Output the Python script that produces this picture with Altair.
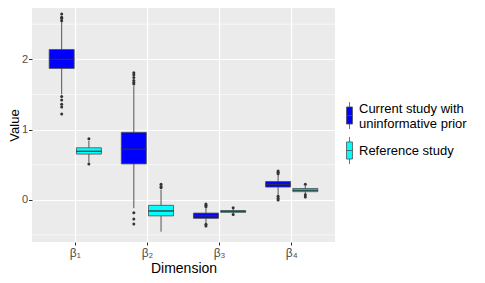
import altair as alt
import pandas as pd

dims = ["β₁", "β₂", "β₃", "β₄"]
groups = ["Current study with\n\u00a0uninformative prior", "Reference study"]
colors = ["#0000FF", "#00FFFF"]

# box statistics per (group, dimension): lower whisker, Q1, median, Q3, upper whisker
cur_lo = [1.50, -0.12, -0.33, 0.06]
cur_q1 = [1.87, 0.51, -0.265, 0.18]
cur_med = [2.00, 0.72, -0.23, 0.22]
cur_q3 = [2.14, 0.96, -0.19, 0.26]
cur_hi = [2.53, 1.62, -0.12, 0.36]

ref_lo = [0.53, -0.455, -0.20, 0.06]
ref_q1 = [0.65, -0.23, -0.18, 0.115]
ref_med = [0.69, -0.16, -0.165, 0.135]
ref_q3 = [0.74, -0.08, -0.155, 0.16]
ref_hi = [0.84, 0.14, -0.125, 0.20]

cur_out = [
    [1.47, 1.42, 1.36, 1.32, 1.22, 2.55, 2.58, 2.60, 2.645],
    [-0.185, -0.275, -0.345, 1.65, 1.67, 1.70, 1.74, 1.78, 1.81],
    [-0.06, -0.08, -0.10, -0.35, -0.375],
    [0.37, 0.39, 0.41, 0.05, 0.02, -0.005],
]
ref_out = [
    [0.87, 0.51],
    [0.17, 0.19, 0.22],
    [-0.115, -0.21],
    [0.22, 0.07, 0.04],
]

minor_y = [-0.5, 0.5, 1.5, 2.5]

rows = []
for g, (lo, q1, md, q3, hi) in zip(groups, [(cur_lo, cur_q1, cur_med, cur_q3, cur_hi),
                                            (ref_lo, ref_q1, ref_med, ref_q3, ref_hi)]):
    for i, d in enumerate(dims):
        rows.append(dict(dim=d, grp=g, lo=lo[i], q1=q1[i], med=md[i], q3=q3[i], hi=hi[i]))
stats = pd.DataFrame(rows)

orows = []
for g, outs in zip(groups, [cur_out, ref_out]):
    for i, d in enumerate(dims):
        for v in outs[i]:
            orows.append(dict(dim=d, grp=g, v=v))
outl = pd.DataFrame(orows)
minor = pd.DataFrame({"m": minor_y})

FONT = "Liberation Sans"
ydom = [-0.602, 2.731]

xenc = alt.X("dim:N", scale=alt.Scale(domain=dims, paddingInner=0, paddingOuter=0.1),
             axis=alt.Axis(title="Dimension", labelAngle=0, labelFontSize=12, labelColor="#4D4D4D",
                           labelFont=FONT, tickColor="#333333", tickSize=3, domain=False,
                           grid=True, gridColor="white", gridWidth=1.2, bandPosition=0.5,
                           labelPadding=2, titleFontSize=14, titleFont=FONT, titleFontWeight="normal",
                           titleColor="black", titlePadding=3))
xoff = alt.XOffset("grp:N", scale=alt.Scale(domain=groups, paddingInner=0.081, paddingOuter=0.366))


def yenc(field, title="Value"):
    return alt.Y(field, type="quantitative", scale=alt.Scale(domain=ydom, nice=False, zero=False),
                 axis=alt.Axis(title=title, values=[0, 1, 2], labelFontSize=11, labelColor="#4D4D4D",
                               labelFont=FONT, tickColor="#333333", tickSize=3.5, labelPadding=1,
                               domain=False, grid=True, gridColor="white", gridWidth=1.2,
                               titleFontSize=13, titleFont=FONT, titleFontWeight="normal",
                               titleColor="black", titlePadding=0))


minor_layer = alt.Chart(minor).mark_rule(color="white", strokeWidth=0.6).encode(y=yenc("m"))

whisk = alt.Chart(stats).mark_rule(color="#555555", strokeWidth=1).encode(
    x=xenc, xOffset=xoff, y=yenc("lo"), y2="hi")

legend_path = "M0.29,-0.61H0.71V0.61H0.29Z M0.5,-0.96V-0.61 M0.5,0.61V0.96 M0.29,0H0.71"
boxes = alt.Chart(stats).mark_bar(stroke="#4D4D4D", strokeWidth=0.8).encode(
    x=xenc, xOffset=xoff, y=yenc("q1"), y2="q3",
    fill=alt.Fill("grp:N", scale=alt.Scale(domain=groups, range=colors),
                  legend=alt.Legend(title=None, orient="none", legendX=296, legendY=93,
                                    symbolType=legend_path, symbolSize=784,
                                    symbolStrokeColor="#4D4D4D", symbolStrokeWidth=0.8,
                                    labelFontSize=13, labelFont=FONT, labelColor="black",
                                    labelOffset=2, labelLimit=300, rowPadding=4, padding=0,
                                    labelBaseline=alt.ExprRef("datum.value == 'Reference study' ? 'middle' : 'bottom'"),
                                    labelExpr="split(datum.label, '\\n')")))

medians = alt.Chart(stats).mark_bar(stroke="#333333", strokeWidth=0.8, fill="#333333").encode(
    x=xenc, xOffset=xoff, y=yenc("med"), y2="med")

points = alt.Chart(outl).mark_circle(size=9, color="#333333", opacity=1).encode(
    x=xenc, xOffset=xoff, y=yenc("v"))

chart = alt.layer(minor_layer, whisk, boxes, medians, points).properties(
    width=303, height=234,
    autosize=alt.AutoSizeParams(type="none"),
    padding={"left": 24, "top": 0, "right": 142, "bottom": 33},
).configure_view(fill="#EBEBEB", stroke=None)

chart.save("out.html", embed_options={"renderer": "svg", "actions": False})
